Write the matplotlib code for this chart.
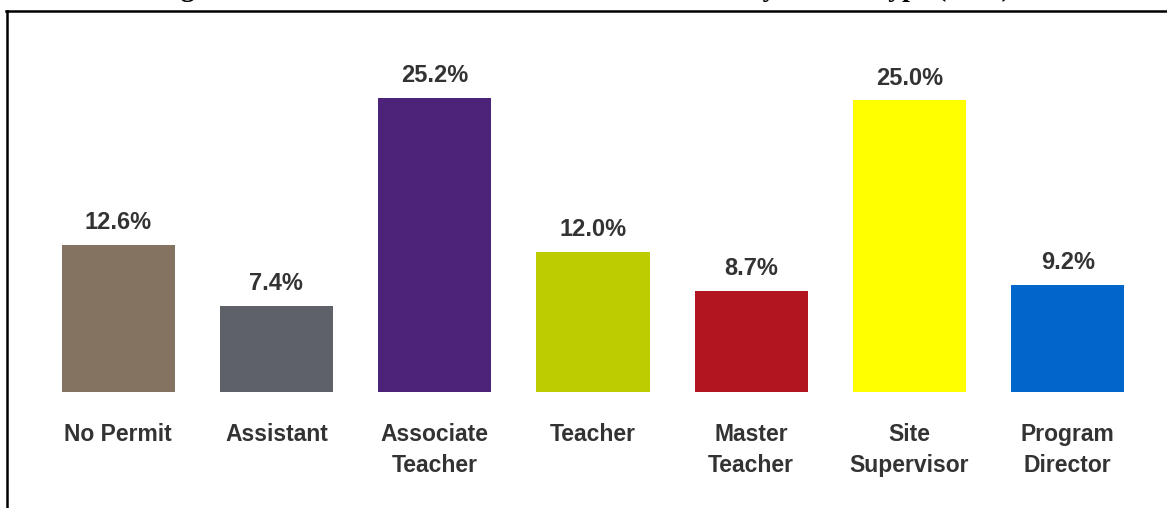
import matplotlib.pyplot as plt
from matplotlib.lines import Line2D
import numpy as np

categories = ['No Permit', 'Assistant', 'Associate\nTeacher', 'Teacher',
              'Master\nTeacher', 'Site\nSupervisor', 'Program\nDirector']
percent = [12.6, 7.4, 25.2, 12.0, 8.7, 25.0, 9.2]
colors = ['#857361', '#5F6168', '#4B2378', '#BDCC00', '#B31520', '#FFFF00', '#0066CC']
title = 'Figure 6: Distribution of Current Permit Holders by Permit Type (2006)'

plt.rcParams['font.family'] = ['Liberation Sans', 'DejaVu Sans']
txt_color = '#333333'

fig = plt.figure(figsize=(11.67, 5.08), dpi=100)
ax = fig.add_axes([0.0334, 0.2283, 0.9494, 0.689])

x = np.arange(len(categories))
ax.bar(x, percent, 0.715, color=colors)
for xi, v in zip(x, percent):
	ax.annotate(f'{v:.1f}%', (xi, v), xytext=(0, 16), textcoords='offset points',
	            ha='center', va='center', fontsize=17, fontweight='bold', color=txt_color)

ax.set_xlim(-0.5, len(categories) - 0.5)
ax.set_ylim(0, 30)
ax.set_xticks(x)
ax.set_xticklabels(categories, fontsize=16.5, fontweight='bold', color=txt_color, linespacing=1.45)
ax.tick_params(axis='x', length=0, pad=22)
ax.set_yticks([])
for s in ax.spines.values():
	s.set_visible(False)

# frame around the chart (top and left edges visible)
top = 1 - 10.5 / 508
fig.add_artist(Line2D([6 / 1167, 1.0], [top, top], color='black', lw=1.8, transform=fig.transFigure))
fig.add_artist(Line2D([7 / 1167, 7 / 1167], [top, 0], color='black', lw=1.8, transform=fig.transFigure))

# title sits above the frame, mostly cropped away as in the source
fig.text(0.5, 1.008, title, ha='center', va='baseline', fontsize=20, fontweight='bold',
         family=['Liberation Serif', 'DejaVu Serif'])

plt.savefig('out.png', dpi=100)
